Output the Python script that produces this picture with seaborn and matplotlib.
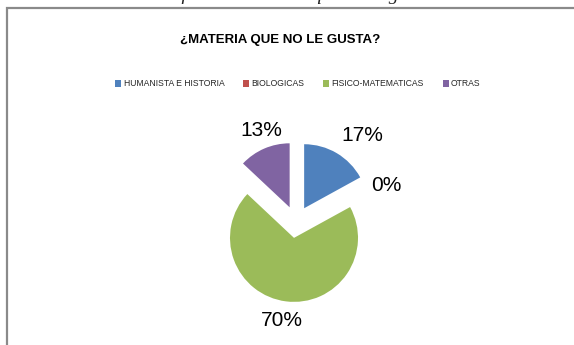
import numpy as np
import matplotlib
matplotlib.use("Agg")
import matplotlib.pyplot as plt
from matplotlib.patches import Rectangle, Patch
import seaborn as sns

# Survey answers: subject area students dislike (percent)
categories = ["HUMANISTA E HISTORIA", "BIOLOGICAS", "FISICO-MATEMATICAS", "OTRAS"]
values = [17, 0, 70, 13]
colors = ["#4F81BD", "#C0504D", "#9BBB59", "#8064A2"]
title = "¿MATERIA QUE NO LE GUSTA?"
caption = "Gráfica 11: Materia que no le gusta"

sns.set_theme(style="white")
plt.rcParams["font.family"] = ["Liberation Sans", "DejaVu Sans"]

W, H, DPI = 574, 345, 100
fig = plt.figure(figsize=(W / DPI, H / DPI), dpi=DPI)
fig.patch.set_facecolor("white")

# caption of the document page, cut off at the top edge
fig.text(290 / W, 1 - 0.5 / H, caption, ha="center", va="baseline",
         family=["Liberation Serif"], style="italic", fontsize=14, color="#222222")

# chart frame
fig.patches.append(Rectangle((6.5 / W, -0.2), 1.2, 1 - 7.5 / H + 0.2,
                             transform=fig.transFigure, fill=False,
                             edgecolor="#8a8a8a", linewidth=1.6, zorder=5))

fig.text(280 / W, 1 - 40 / H, title, ha="center", va="center",
         fontsize=9.5, fontweight="bold", color="black")

# pie axes: radius 64 px, centred at (296, 222) px
R = 64
L = 3.0
cx, cy = 296, 222
side = 2 * L * R
ax = fig.add_axes([(cx - side / 2) / W, (H - cy - side / 2) / H, side / W, side / H])

explode = [0.25] * len(values)
wedges, _ = ax.pie(values, colors=colors, startangle=90, counterclock=False,
                   explode=explode, radius=1, wedgeprops=dict(linewidth=0))
ax.set_xlim(-L, L)
ax.set_ylim(-L, L)
ax.set_aspect("equal")
ax.axis("off")

# percentage labels around each wedge
label_dist = [1.46, 1.27, 1.31, 1.28]
label_shift = [-8, -8, -1, -3]
total = sum(values)
for w, v, d, s, ex in zip(wedges, values, label_dist, label_shift, explode):
    mid = np.deg2rad((w.theta1 + w.theta2) / 2)
    ox, oy = ex * np.cos(mid), ex * np.sin(mid)
    a = mid + np.deg2rad(s)
    ax.text(ox + d * np.cos(a), oy + d * np.sin(a), f"{100 * v / total:.0f}%",
            ha="center", va="center", fontsize=15, color="black")

handles = [Patch(facecolor=c, edgecolor="none") for c in colors]
fig.legend(handles, categories, loc="center", bbox_to_anchor=(298 / W, 1 - 84 / H),
           ncol=4, frameon=False, fontsize=6.2, handlelength=0.7, handleheight=0.7,
           handletextpad=0.25, columnspacing=2.2, borderpad=0)

fig.savefig("out.png", dpi=DPI, facecolor="white")
